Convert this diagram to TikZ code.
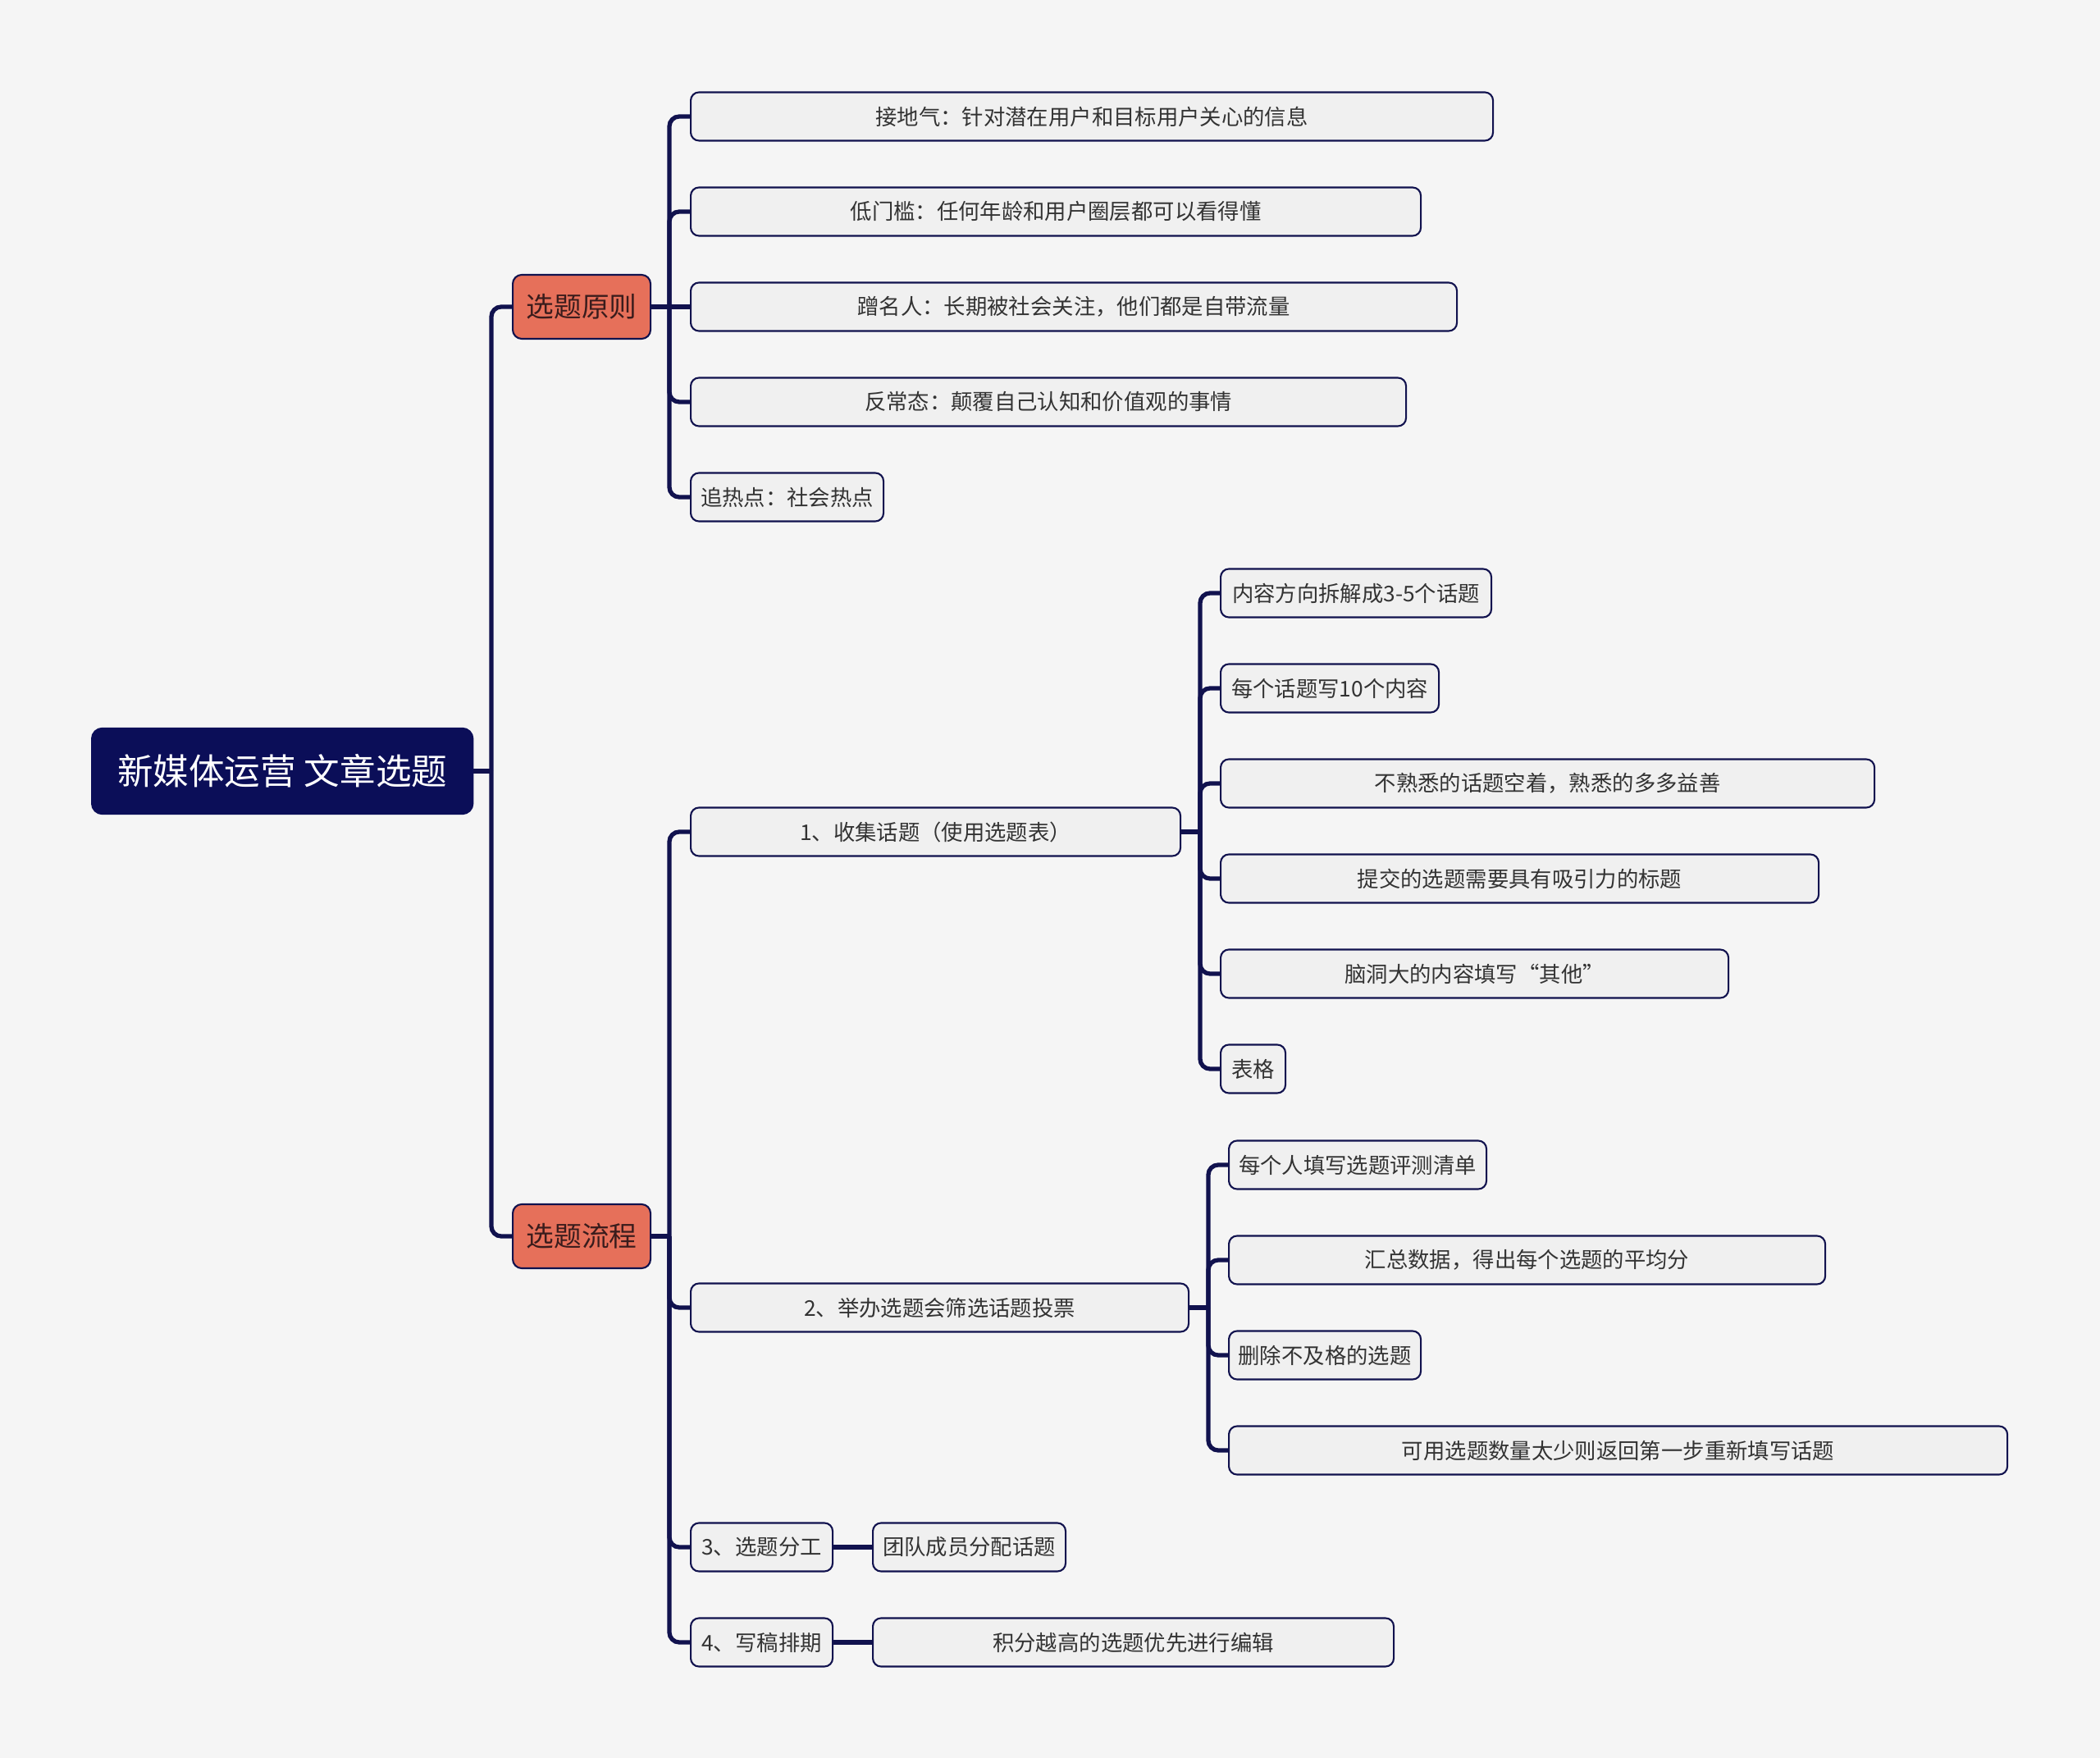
\documentclass[tikz,border=0pt]{standalone}
\usepackage{fontspec}
\setmainfont{Noto Sans CJK SC}
\definecolor{bgcol}{HTML}{F5F5F5}
\definecolor{navy}{HTML}{0B0E58}
\definecolor{linecol}{HTML}{11124E}
\definecolor{salmon}{HTML}{E6705A}
\definecolor{leaffill}{HTML}{F0F0F0}
\definecolor{leaftext}{HTML}{333333}
\definecolor{toptext}{HTML}{3A1C1C}
\begin{document}
\begin{tikzpicture}[
    rootbox/.style={rectangle, rounded corners=0.13cm, fill=navy, draw=navy, text=white,
      font=\fontsize{12.4pt}{14pt}\selectfont, minimum width=4.65cm, minimum height=1.05cm, anchor=west, inner sep=1pt},
    topbox/.style={rectangle, rounded corners=0.11cm, fill=salmon, draw=linecol, line width=0.6pt, text=toptext,
      font=\fontsize{9.6pt}{11pt}\selectfont, minimum width=1.68cm, minimum height=0.78cm, anchor=west, inner sep=1pt},
    leaf/.style={rectangle, rounded corners=0.1cm, fill=leaffill, draw=linecol, line width=0.6pt, text=leaftext,
      font=\fontsize{7.5pt}{9pt}\selectfont, minimum height=0.59cm, anchor=west, inner sep=1pt},
    link/.style={draw=linecol, line width=1.5pt, rounded corners=0.12cm}]
    \useasboundingbox[fill=bgcol] (0,0) rectangle (25.6,-21.43);
    % spine points
    \coordinate (S0) at (5.99,-9.40);
    \coordinate (SA) at (8.16,-3.74);
    \coordinate (SB) at (8.16,-15.07);
    \coordinate (SF1) at (14.63,-10.14);
    \coordinate (SF2) at (14.73,-15.94);
    \node[rootbox] (root) at (1.11,-9.40) {新媒体运营 文章选题};
    \node[topbox] (A) at (6.24,-3.74) {选题原则};
    \node[topbox] (B) at (6.24,-15.07) {选题流程};
    \node[leaf, minimum width=9.78cm] (P1) at (8.41,-1.42) {接地气：针对潜在用户和目标用户关心的信息};
    \node[leaf, minimum width=8.90cm] (P2) at (8.41,-2.58) {低门槛：任何年龄和用户圈层都可以看得懂};
    \node[leaf, minimum width=9.34cm] (P3) at (8.41,-3.74) {蹭名人：长期被社会关注，他们都是自带流量};
    \node[leaf, minimum width=8.72cm] (P4) at (8.41,-4.90) {反常态：颠覆自己认知和价值观的事情};
    \node[leaf, minimum width=2.35cm] (P5) at (8.41,-6.06) {追热点：社会热点};
    \node[leaf, minimum width=5.97cm] (F1) at (8.41,-10.14) {1、收集话题（使用选题表）};
    \node[leaf, minimum width=6.07cm] (F2) at (8.41,-15.94) {2、举办选题会筛选话题投票};
    \node[leaf, minimum width=1.73cm] (F3) at (8.41,-18.86) {3、选题分工};
    \node[leaf, minimum width=1.73cm] (F4) at (8.41,-20.02) {4、写稿排期};
    \node[leaf, minimum width=2.35cm] (F3a) at (10.63,-18.86) {团队成员分配话题};
    \node[leaf, minimum width=6.35cm] (F4a) at (10.63,-20.02) {积分越高的选题优先进行编辑};
    \node[leaf, minimum width=3.30cm] (C1) at (14.87,-7.23) {内容方向拆解成3-5个话题};
    \node[leaf, minimum width=2.66cm] (C2) at (14.87,-8.39) {每个话题写10个内容};
    \node[leaf, minimum width=7.97cm] (C3) at (14.87,-9.55) {不熟悉的话题空着，熟悉的多多益善};
    \node[leaf, minimum width=7.29cm] (C4) at (14.87,-10.71) {提交的选题需要具有吸引力的标题};
    \node[leaf, minimum width=6.19cm] (C5) at (14.87,-11.87) {脑洞大的内容填写“其他”};
    \node[leaf, minimum width=0.79cm] (C6) at (14.87,-13.03) {表格};
    \node[leaf, minimum width=3.14cm] (D1) at (14.97,-14.20) {每个人填写选题评测清单};
    \node[leaf, minimum width=7.27cm] (D2) at (14.97,-15.36) {汇总数据，得出每个选题的平均分};
    \node[leaf, minimum width=2.34cm] (D3) at (14.97,-16.52) {删除不及格的选题};
    \node[leaf, minimum width=9.49cm] (D4) at (14.97,-17.68) {可用选题数量太少则返回第一步重新填写话题};
    \draw[link] (root.east) -- (S0);
    \foreach \n in {A,B} \draw[link] (S0) |- (\n.west);
    \draw[link] (A.east) -- (SA);
    \foreach \n in {P1,P2,P4,P5} \draw[link] (SA) |- (\n.west);
    \draw[link] (SA) -- (P3.west);
    \draw[link] (B.east) -- (SB);
    \foreach \n in {F1,F2,F3,F4} \draw[link] (SB) |- (\n.west);
    \draw[link] (F1.east) -- (SF1);
    \foreach \n in {C1,C2,C3,C4,C5,C6} \draw[link] (SF1) |- (\n.west);
    \draw[link] (F2.east) -- (SF2);
    \foreach \n in {D1,D2,D3,D4} \draw[link] (SF2) |- (\n.west);
    \draw[link] (F3.east) -- (F3a.west);
    \draw[link] (F4.east) -- (F4a.west);
\end{tikzpicture}
\end{document}
